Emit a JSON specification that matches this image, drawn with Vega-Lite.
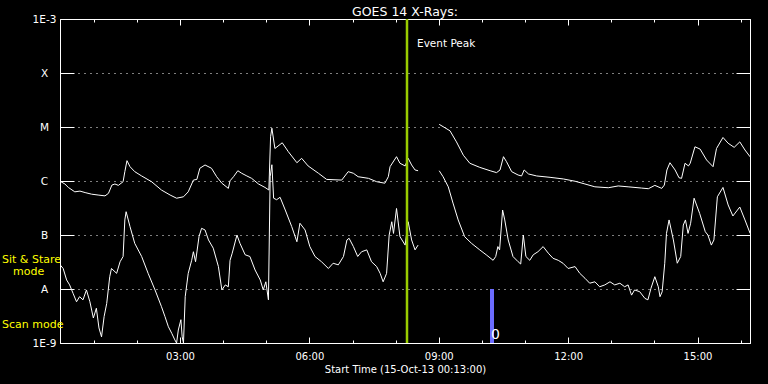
{
  "$schema": "https://vega.github.io/schema/vega-lite/v6.json",
  "width": 690,
  "height": 324,
  "autosize": {"type": "none"},
  "padding": {"left": 60, "top": 19, "right": 18, "bottom": 41},
  "background": "black",
  "config": {
    "view": {"stroke": "white", "strokeWidth": 1},
    "font": "DejaVu Sans",
    "axis": {
      "domainColor": "white", "tickColor": "white", "labelColor": "white", "titleColor": "white",
      "labelFont": "DejaVu Sans", "titleFont": "DejaVu Sans", "labelFontSize": 10, "titleFontSize": 10,
      "titleFontWeight": "normal", "grid": false, "domainWidth": 1, "tickWidth": 1
    }
  },
  "title": {"text": "GOES 14 X-Rays:", "color": "white", "font": "DejaVu Sans", "fontSize": 12.5, "fontWeight": "normal", "anchor": "middle", "frame": "group", "baseline": "alphabetic", "offset": 4, "dy": 18},
  "datasets": {
    "goes": [
      {"channel": "long", "seg": 1, "hour": 0.22, "flux": 9.9e-7},
      {"channel": "long", "seg": 1, "hour": 0.33, "flux": 8.8e-7},
      {"channel": "long", "seg": 1, "hour": 0.41, "flux": 7.6e-7},
      {"channel": "long", "seg": 1, "hour": 0.56, "flux": 6.3e-7},
      {"channel": "long", "seg": 1, "hour": 0.68, "flux": 6.5e-7},
      {"channel": "long", "seg": 1, "hour": 0.80, "flux": 6.1e-7},
      {"channel": "long", "seg": 1, "hour": 0.95, "flux": 5.7e-7},
      {"channel": "long", "seg": 1, "hour": 1.10, "flux": 5.5e-7},
      {"channel": "long", "seg": 1, "hour": 1.26, "flux": 5.3e-7},
      {"channel": "long", "seg": 1, "hour": 1.34, "flux": 5.9e-7},
      {"channel": "long", "seg": 1, "hour": 1.42, "flux": 8.4e-7},
      {"channel": "long", "seg": 1, "hour": 1.49, "flux": 8.8e-7},
      {"channel": "long", "seg": 1, "hour": 1.57, "flux": 8.3e-7},
      {"channel": "long", "seg": 1, "hour": 1.68, "flux": 9.7e-7},
      {"channel": "long", "seg": 1, "hour": 1.72, "flux": 1.49e-6},
      {"channel": "long", "seg": 1, "hour": 1.77, "flux": 2.38e-6},
      {"channel": "long", "seg": 1, "hour": 1.84, "flux": 1.84e-6},
      {"channel": "long", "seg": 1, "hour": 1.95, "flux": 1.49e-6},
      {"channel": "long", "seg": 1, "hour": 2.11, "flux": 1.24e-6},
      {"channel": "long", "seg": 1, "hour": 2.34, "flux": 9.7e-7},
      {"channel": "long", "seg": 1, "hour": 2.57, "flux": 6.8e-7},
      {"channel": "long", "seg": 1, "hour": 2.77, "flux": 5.5e-7},
      {"channel": "long", "seg": 1, "hour": 2.92, "flux": 4.8e-7},
      {"channel": "long", "seg": 1, "hour": 3.08, "flux": 5.1e-7},
      {"channel": "long", "seg": 1, "hour": 3.19, "flux": 6.3e-7},
      {"channel": "long", "seg": 1, "hour": 3.31, "flux": 1.04e-6},
      {"channel": "long", "seg": 1, "hour": 3.39, "flux": 1.07e-6},
      {"channel": "long", "seg": 1, "hour": 3.46, "flux": 1.72e-6},
      {"channel": "long", "seg": 1, "hour": 3.58, "flux": 1.98e-6},
      {"channel": "long", "seg": 1, "hour": 3.73, "flux": 1.72e-6},
      {"channel": "long", "seg": 1, "hour": 3.85, "flux": 1.2e-6},
      {"channel": "long", "seg": 1, "hour": 3.97, "flux": 9.1e-7},
      {"channel": "long", "seg": 1, "hour": 4.12, "flux": 7.3e-7},
      {"channel": "long", "seg": 1, "hour": 4.16, "flux": 1.01e-6},
      {"channel": "long", "seg": 1, "hour": 4.24, "flux": 1.2e-6},
      {"channel": "long", "seg": 1, "hour": 4.34, "flux": 1.55e-6},
      {"channel": "long", "seg": 1, "hour": 4.43, "flux": 1.39e-6},
      {"channel": "long", "seg": 1, "hour": 4.55, "flux": 1.24e-6},
      {"channel": "long", "seg": 1, "hour": 4.66, "flux": 1.12e-6},
      {"channel": "long", "seg": 1, "hour": 4.82, "flux": 8.8e-7},
      {"channel": "long", "seg": 1, "hour": 4.97, "flux": 7.6e-7},
      {"channel": "long", "seg": 1, "hour": 5.06, "flux": 6.8e-7},
      {"channel": "long", "seg": 1, "hour": 5.10, "flux": 6.6e-6},
      {"channel": "long", "seg": 1, "hour": 5.13, "flux": 9.5e-6},
      {"channel": "long", "seg": 1, "hour": 5.20, "flux": 4.0e-6},
      {"channel": "long", "seg": 1, "hour": 5.37, "flux": 5.1e-6},
      {"channel": "long", "seg": 1, "hour": 5.51, "flux": 3.5e-6},
      {"channel": "long", "seg": 1, "hour": 5.71, "flux": 2.18e-6},
      {"channel": "long", "seg": 1, "hour": 5.82, "flux": 2.63e-6},
      {"channel": "long", "seg": 1, "hour": 5.97, "flux": 1.9e-6},
      {"channel": "long", "seg": 1, "hour": 6.21, "flux": 1.39e-6},
      {"channel": "long", "seg": 1, "hour": 6.40, "flux": 1.07e-6},
      {"channel": "long", "seg": 1, "hour": 6.75, "flux": 1.04e-6},
      {"channel": "long", "seg": 1, "hour": 6.90, "flux": 1.49e-6},
      {"channel": "long", "seg": 1, "hour": 7.02, "flux": 1.39e-6},
      {"channel": "long", "seg": 1, "hour": 7.13, "flux": 1.2e-6},
      {"channel": "long", "seg": 1, "hour": 7.37, "flux": 1.12e-6},
      {"channel": "long", "seg": 1, "hour": 7.56, "flux": 9.7e-7},
      {"channel": "long", "seg": 1, "hour": 7.75, "flux": 9.1e-7},
      {"channel": "long", "seg": 1, "hour": 7.83, "flux": 1.2e-6},
      {"channel": "long", "seg": 1, "hour": 7.87, "flux": 1.84e-6},
      {"channel": "long", "seg": 1, "hour": 8.02, "flux": 2.82e-6},
      {"channel": "long", "seg": 1, "hour": 8.10, "flux": 2.13e-6},
      {"channel": "long", "seg": 1, "hour": 8.22, "flux": 1.9e-6},
      {"channel": "long", "seg": 1, "hour": 8.29, "flux": 2.63e-6},
      {"channel": "long", "seg": 1, "hour": 8.37, "flux": 1.98e-6},
      {"channel": "long", "seg": 1, "hour": 8.45, "flux": 1.6e-6},
      {"channel": "long", "seg": 1, "hour": 8.52, "flux": 1.55e-6},
      {"channel": "long", "seg": 2, "hour": 9.01, "flux": 1.12e-5},
      {"channel": "long", "seg": 2, "hour": 9.26, "flux": 8.5e-6},
      {"channel": "long", "seg": 2, "hour": 9.41, "flux": 5.3e-6},
      {"channel": "long", "seg": 2, "hour": 9.57, "flux": 3.0e-6},
      {"channel": "long", "seg": 2, "hour": 9.72, "flux": 2.13e-6},
      {"channel": "long", "seg": 2, "hour": 9.95, "flux": 1.79e-6},
      {"channel": "long", "seg": 2, "hour": 10.19, "flux": 1.55e-6},
      {"channel": "long", "seg": 2, "hour": 10.34, "flux": 1.43e-6},
      {"channel": "long", "seg": 2, "hour": 10.42, "flux": 1.6e-6},
      {"channel": "long", "seg": 2, "hour": 10.50, "flux": 2.82e-6},
      {"channel": "long", "seg": 2, "hour": 10.57, "flux": 2.28e-6},
      {"channel": "long", "seg": 2, "hour": 10.69, "flux": 1.49e-6},
      {"channel": "long", "seg": 2, "hour": 10.84, "flux": 1.29e-6},
      {"channel": "long", "seg": 2, "hour": 10.92, "flux": 1.24e-6},
      {"channel": "long", "seg": 2, "hour": 10.98, "flux": 1.6e-6},
      {"channel": "long", "seg": 2, "hour": 11.08, "flux": 1.35e-6},
      {"channel": "long", "seg": 2, "hour": 11.27, "flux": 1.24e-6},
      {"channel": "long", "seg": 2, "hour": 11.58, "flux": 1.17e-6},
      {"channel": "long", "seg": 2, "hour": 11.89, "flux": 1.09e-6},
      {"channel": "long", "seg": 2, "hour": 12.16, "flux": 9.9e-7},
      {"channel": "long", "seg": 2, "hour": 12.39, "flux": 8.8e-7},
      {"channel": "long", "seg": 2, "hour": 12.62, "flux": 7.8e-7},
      {"channel": "long", "seg": 2, "hour": 12.93, "flux": 7.5e-7},
      {"channel": "long", "seg": 2, "hour": 13.16, "flux": 8.1e-7},
      {"channel": "long", "seg": 2, "hour": 13.39, "flux": 7.8e-7},
      {"channel": "long", "seg": 2, "hour": 13.70, "flux": 7.4e-7},
      {"channel": "long", "seg": 2, "hour": 13.86, "flux": 7.2e-7},
      {"channel": "long", "seg": 2, "hour": 14.01, "flux": 8.3e-7},
      {"channel": "long", "seg": 2, "hour": 14.17, "flux": 7.3e-7},
      {"channel": "long", "seg": 2, "hour": 14.23, "flux": 8.4e-7},
      {"channel": "long", "seg": 2, "hour": 14.29, "flux": 1.6e-6},
      {"channel": "long", "seg": 2, "hour": 14.36, "flux": 2.18e-6},
      {"channel": "long", "seg": 2, "hour": 14.48, "flux": 1.6e-6},
      {"channel": "long", "seg": 2, "hour": 14.57, "flux": 1.15e-6},
      {"channel": "long", "seg": 2, "hour": 14.63, "flux": 1.12e-6},
      {"channel": "long", "seg": 2, "hour": 14.71, "flux": 2.13e-6},
      {"channel": "long", "seg": 2, "hour": 14.79, "flux": 1.9e-6},
      {"channel": "long", "seg": 2, "hour": 14.83, "flux": 2.13e-6},
      {"channel": "long", "seg": 2, "hour": 14.94, "flux": 4.3e-6},
      {"channel": "long", "seg": 2, "hour": 15.06, "flux": 3.9e-6},
      {"channel": "long", "seg": 2, "hour": 15.21, "flux": 2.45e-6},
      {"channel": "long", "seg": 2, "hour": 15.36, "flux": 1.84e-6},
      {"channel": "long", "seg": 2, "hour": 15.44, "flux": 4.0e-6},
      {"channel": "long", "seg": 2, "hour": 15.59, "flux": 6.4e-6},
      {"channel": "long", "seg": 2, "hour": 15.71, "flux": 5.0e-6},
      {"channel": "long", "seg": 2, "hour": 15.85, "flux": 4.2e-6},
      {"channel": "long", "seg": 2, "hour": 15.98, "flux": 5.3e-6},
      {"channel": "long", "seg": 2, "hour": 16.10, "flux": 3.75e-6},
      {"channel": "long", "seg": 2, "hour": 16.22, "flux": 2.8e-6},
      {"channel": "short", "seg": 1, "hour": 0.22, "flux": 2.8e-8},
      {"channel": "short", "seg": 1, "hour": 0.29, "flux": 2.4e-8},
      {"channel": "short", "seg": 1, "hour": 0.37, "flux": 1.47e-8},
      {"channel": "short", "seg": 1, "hour": 0.44, "flux": 1.19e-8},
      {"channel": "short", "seg": 1, "hour": 0.52, "flux": 8.3e-9},
      {"channel": "short", "seg": 1, "hour": 0.60, "flux": 5.8e-9},
      {"channel": "short", "seg": 1, "hour": 0.67, "flux": 7.2e-9},
      {"channel": "short", "seg": 1, "hour": 0.75, "flux": 6.3e-9},
      {"channel": "short", "seg": 1, "hour": 0.83, "flux": 9.6e-9},
      {"channel": "short", "seg": 1, "hour": 0.91, "flux": 5.8e-9},
      {"channel": "short", "seg": 1, "hour": 0.99, "flux": 2.9e-9},
      {"channel": "short", "seg": 1, "hour": 1.06, "flux": 4.4e-9},
      {"channel": "short", "seg": 1, "hour": 1.12, "flux": 1.9e-9},
      {"channel": "short", "seg": 1, "hour": 1.18, "flux": 1.3e-9},
      {"channel": "short", "seg": 1, "hour": 1.24, "flux": 3.1e-9},
      {"channel": "short", "seg": 1, "hour": 1.30, "flux": 5.4e-9},
      {"channel": "short", "seg": 1, "hour": 1.37, "flux": 1.69e-8},
      {"channel": "short", "seg": 1, "hour": 1.41, "flux": 2.4e-8},
      {"channel": "short", "seg": 1, "hour": 1.53, "flux": 1.95e-8},
      {"channel": "short", "seg": 1, "hour": 1.61, "flux": 3.2e-8},
      {"channel": "short", "seg": 1, "hour": 1.68, "flux": 4.0e-8},
      {"channel": "short", "seg": 1, "hour": 1.72, "flux": 1.9e-7},
      {"channel": "short", "seg": 1, "hour": 1.75, "flux": 2.7e-7},
      {"channel": "short", "seg": 1, "hour": 1.84, "flux": 1.43e-7},
      {"channel": "short", "seg": 1, "hour": 1.95, "flux": 7.0e-8},
      {"channel": "short", "seg": 1, "hour": 2.11, "flux": 4.0e-8},
      {"channel": "short", "seg": 1, "hour": 2.26, "flux": 1.95e-8},
      {"channel": "short", "seg": 1, "hour": 2.42, "flux": 9.6e-9},
      {"channel": "short", "seg": 1, "hour": 2.57, "flux": 4.7e-9},
      {"channel": "short", "seg": 1, "hour": 2.65, "flux": 3.1e-9},
      {"channel": "short", "seg": 1, "hour": 2.73, "flux": 2.0e-9},
      {"channel": "short", "seg": 1, "hour": 2.81, "flux": 1.5e-9},
      {"channel": "short", "seg": 1, "hour": 2.88, "flux": 1.14e-9},
      {"channel": "short", "seg": 1, "hour": 2.92, "flux": 1.0e-9},
      {"channel": "short", "seg": 1, "hour": 2.96, "flux": 1.74e-9},
      {"channel": "short", "seg": 1, "hour": 3.02, "flux": 2.7e-9},
      {"channel": "short", "seg": 1, "hour": 3.05, "flux": 1.3e-9},
      {"channel": "short", "seg": 1, "hour": 3.08, "flux": 1.0e-9},
      {"channel": "short", "seg": 1, "hour": 3.12, "flux": 7.2e-9},
      {"channel": "short", "seg": 1, "hour": 3.19, "flux": 1.95e-8},
      {"channel": "short", "seg": 1, "hour": 3.27, "flux": 3.4e-8},
      {"channel": "short", "seg": 1, "hour": 3.31, "flux": 4.9e-8},
      {"channel": "short", "seg": 1, "hour": 3.36, "flux": 3.2e-8},
      {"channel": "short", "seg": 1, "hour": 3.44, "flux": 9.3e-8},
      {"channel": "short", "seg": 1, "hour": 3.50, "flux": 1.33e-7},
      {"channel": "short", "seg": 1, "hour": 3.58, "flux": 1.24e-7},
      {"channel": "short", "seg": 1, "hour": 3.66, "flux": 8.1e-8},
      {"channel": "short", "seg": 1, "hour": 3.77, "flux": 5.7e-8},
      {"channel": "short", "seg": 1, "hour": 3.89, "flux": 2.6e-8},
      {"channel": "short", "seg": 1, "hour": 3.97, "flux": 9.6e-9},
      {"channel": "short", "seg": 1, "hour": 4.05, "flux": 1.19e-8},
      {"channel": "short", "seg": 1, "hour": 4.12, "flux": 1.1e-8},
      {"channel": "short", "seg": 1, "hour": 4.16, "flux": 3.4e-8},
      {"channel": "short", "seg": 1, "hour": 4.21, "flux": 4.6e-8},
      {"channel": "short", "seg": 1, "hour": 4.32, "flux": 1.0e-7},
      {"channel": "short", "seg": 1, "hour": 4.39, "flux": 7.0e-8},
      {"channel": "short", "seg": 1, "hour": 4.51, "flux": 4.3e-8},
      {"channel": "short", "seg": 1, "hour": 4.62, "flux": 4.0e-8},
      {"channel": "short", "seg": 1, "hour": 4.74, "flux": 2.25e-8},
      {"channel": "short", "seg": 1, "hour": 4.86, "flux": 1.47e-8},
      {"channel": "short", "seg": 1, "hour": 4.93, "flux": 9.6e-9},
      {"channel": "short", "seg": 1, "hour": 4.99, "flux": 1.36e-8},
      {"channel": "short", "seg": 1, "hour": 5.05, "flux": 6.3e-9},
      {"channel": "short", "seg": 1, "hour": 5.09, "flux": 1.2e-6},
      {"channel": "short", "seg": 1, "hour": 5.13, "flux": 2.0e-6},
      {"channel": "short", "seg": 1, "hour": 5.17, "flux": 4.8e-7},
      {"channel": "short", "seg": 1, "hour": 5.24, "flux": 4.5e-7},
      {"channel": "short", "seg": 1, "hour": 5.32, "flux": 5.0e-7},
      {"channel": "short", "seg": 1, "hour": 5.44, "flux": 2.9e-7},
      {"channel": "short", "seg": 1, "hour": 5.59, "flux": 1.43e-7},
      {"channel": "short", "seg": 1, "hour": 5.71, "flux": 7.5e-8},
      {"channel": "short", "seg": 1, "hour": 5.78, "flux": 1.65e-7},
      {"channel": "short", "seg": 1, "hour": 5.90, "flux": 1.24e-7},
      {"channel": "short", "seg": 1, "hour": 6.01, "flux": 6.1e-8},
      {"channel": "short", "seg": 1, "hour": 6.13, "flux": 4.0e-8},
      {"channel": "short", "seg": 1, "hour": 6.28, "flux": 3.2e-8},
      {"channel": "short", "seg": 1, "hour": 6.44, "flux": 2.4e-8},
      {"channel": "short", "seg": 1, "hour": 6.55, "flux": 3.0e-8},
      {"channel": "short", "seg": 1, "hour": 6.67, "flux": 2.8e-8},
      {"channel": "short", "seg": 1, "hour": 6.79, "flux": 4.0e-8},
      {"channel": "short", "seg": 1, "hour": 6.87, "flux": 8.1e-8},
      {"channel": "short", "seg": 1, "hour": 6.92, "flux": 8.7e-8},
      {"channel": "short", "seg": 1, "hour": 7.02, "flux": 6.1e-8},
      {"channel": "short", "seg": 1, "hour": 7.12, "flux": 4.0e-8},
      {"channel": "short", "seg": 1, "hour": 7.21, "flux": 4.9e-8},
      {"channel": "short", "seg": 1, "hour": 7.33, "flux": 5.3e-8},
      {"channel": "short", "seg": 1, "hour": 7.44, "flux": 3.2e-8},
      {"channel": "short", "seg": 1, "hour": 7.56, "flux": 2.6e-8},
      {"channel": "short", "seg": 1, "hour": 7.64, "flux": 1.95e-8},
      {"channel": "short", "seg": 1, "hour": 7.71, "flux": 1.36e-8},
      {"channel": "short", "seg": 1, "hour": 7.79, "flux": 1.95e-8},
      {"channel": "short", "seg": 1, "hour": 7.85, "flux": 1.0e-7},
      {"channel": "short", "seg": 1, "hour": 7.91, "flux": 1.76e-7},
      {"channel": "short", "seg": 1, "hour": 7.95, "flux": 1.07e-7},
      {"channel": "short", "seg": 1, "hour": 8.02, "flux": 3.1e-7},
      {"channel": "short", "seg": 1, "hour": 8.10, "flux": 9.3e-8},
      {"channel": "short", "seg": 1, "hour": 8.22, "flux": 6.5e-8},
      {"channel": "short", "seg": 1, "hour": 8.29, "flux": 1.76e-7},
      {"channel": "short", "seg": 1, "hour": 8.37, "flux": 8.1e-8},
      {"channel": "short", "seg": 1, "hour": 8.45, "flux": 5.3e-8},
      {"channel": "short", "seg": 1, "hour": 8.52, "flux": 6.5e-8},
      {"channel": "short", "seg": 2, "hour": 9.01, "flux": 1.55e-6},
      {"channel": "short", "seg": 2, "hour": 9.10, "flux": 1.2e-6},
      {"channel": "short", "seg": 2, "hour": 9.22, "flux": 7.8e-7},
      {"channel": "short", "seg": 2, "hour": 9.33, "flux": 3.9e-7},
      {"channel": "short", "seg": 2, "hour": 9.45, "flux": 1.9e-7},
      {"channel": "short", "seg": 2, "hour": 9.60, "flux": 9.3e-8},
      {"channel": "short", "seg": 2, "hour": 9.76, "flux": 7.0e-8},
      {"channel": "short", "seg": 2, "hour": 9.95, "flux": 5.3e-8},
      {"channel": "short", "seg": 2, "hour": 10.10, "flux": 4.3e-8},
      {"channel": "short", "seg": 2, "hour": 10.26, "flux": 3.4e-8},
      {"channel": "short", "seg": 2, "hour": 10.32, "flux": 4.0e-8},
      {"channel": "short", "seg": 2, "hour": 10.37, "flux": 6.1e-8},
      {"channel": "short", "seg": 2, "hour": 10.41, "flux": 5.3e-8},
      {"channel": "short", "seg": 2, "hour": 10.48, "flux": 2.9e-7},
      {"channel": "short", "seg": 2, "hour": 10.53, "flux": 1.9e-7},
      {"channel": "short", "seg": 2, "hour": 10.61, "flux": 8.1e-8},
      {"channel": "short", "seg": 2, "hour": 10.72, "flux": 4.0e-8},
      {"channel": "short", "seg": 2, "hour": 10.84, "flux": 3.2e-8},
      {"channel": "short", "seg": 2, "hour": 10.90, "flux": 2.9e-8},
      {"channel": "short", "seg": 2, "hour": 10.96, "flux": 1.0e-7},
      {"channel": "short", "seg": 2, "hour": 11.02, "flux": 4.0e-8},
      {"channel": "short", "seg": 2, "hour": 11.11, "flux": 3.4e-8},
      {"channel": "short", "seg": 2, "hour": 11.19, "flux": 4.3e-8},
      {"channel": "short", "seg": 2, "hour": 11.30, "flux": 4.9e-8},
      {"channel": "short", "seg": 2, "hour": 11.42, "flux": 6.1e-8},
      {"channel": "short", "seg": 2, "hour": 11.54, "flux": 4.6e-8},
      {"channel": "short", "seg": 2, "hour": 11.65, "flux": 3.7e-8},
      {"channel": "short", "seg": 2, "hour": 11.77, "flux": 3.4e-8},
      {"channel": "short", "seg": 2, "hour": 11.88, "flux": 3.0e-8},
      {"channel": "short", "seg": 2, "hour": 12.00, "flux": 2.4e-8},
      {"channel": "short", "seg": 2, "hour": 12.16, "flux": 2.6e-8},
      {"channel": "short", "seg": 2, "hour": 12.27, "flux": 1.95e-8},
      {"channel": "short", "seg": 2, "hour": 12.39, "flux": 1.58e-8},
      {"channel": "short", "seg": 2, "hour": 12.50, "flux": 1.28e-8},
      {"channel": "short", "seg": 2, "hour": 12.62, "flux": 1.36e-8},
      {"channel": "short", "seg": 2, "hour": 12.73, "flux": 1.1e-8},
      {"channel": "short", "seg": 2, "hour": 12.85, "flux": 1.19e-8},
      {"channel": "short", "seg": 2, "hour": 12.97, "flux": 1.36e-8},
      {"channel": "short", "seg": 2, "hour": 13.08, "flux": 1.19e-8},
      {"channel": "short", "seg": 2, "hour": 13.20, "flux": 1.28e-8},
      {"channel": "short", "seg": 2, "hour": 13.31, "flux": 1.1e-8},
      {"channel": "short", "seg": 2, "hour": 13.39, "flux": 1.19e-8},
      {"channel": "short", "seg": 2, "hour": 13.47, "flux": 7.7e-9},
      {"channel": "short", "seg": 2, "hour": 13.54, "flux": 9.6e-9},
      {"channel": "short", "seg": 2, "hour": 13.66, "flux": 8.9e-9},
      {"channel": "short", "seg": 2, "hour": 13.78, "flux": 6.7e-9},
      {"channel": "short", "seg": 2, "hour": 13.85, "flux": 6.3e-9},
      {"channel": "short", "seg": 2, "hour": 13.92, "flux": 1.03e-8},
      {"channel": "short", "seg": 2, "hour": 14.01, "flux": 1.69e-8},
      {"channel": "short", "seg": 2, "hour": 14.09, "flux": 1.1e-8},
      {"channel": "short", "seg": 2, "hour": 14.13, "flux": 7.2e-9},
      {"channel": "short", "seg": 2, "hour": 14.18, "flux": 8.9e-9},
      {"channel": "short", "seg": 2, "hour": 14.24, "flux": 3.0e-8},
      {"channel": "short", "seg": 2, "hour": 14.28, "flux": 1.07e-7},
      {"channel": "short", "seg": 2, "hour": 14.34, "flux": 1.9e-7},
      {"channel": "short", "seg": 2, "hour": 14.44, "flux": 8.1e-8},
      {"channel": "short", "seg": 2, "hour": 14.53, "flux": 3.0e-8},
      {"channel": "short", "seg": 2, "hour": 14.61, "flux": 4.0e-8},
      {"channel": "short", "seg": 2, "hour": 14.67, "flux": 1.53e-7},
      {"channel": "short", "seg": 2, "hour": 14.72, "flux": 1.9e-7},
      {"channel": "short", "seg": 2, "hour": 14.78, "flux": 1.07e-7},
      {"channel": "short", "seg": 2, "hour": 14.84, "flux": 1.65e-7},
      {"channel": "short", "seg": 2, "hour": 14.92, "flux": 4.8e-7},
      {"channel": "short", "seg": 2, "hour": 15.05, "flux": 2.5e-7},
      {"channel": "short", "seg": 2, "hour": 15.18, "flux": 1.15e-7},
      {"channel": "short", "seg": 2, "hour": 15.24, "flux": 1.0e-7},
      {"channel": "short", "seg": 2, "hour": 15.32, "flux": 6.5e-8},
      {"channel": "short", "seg": 2, "hour": 15.38, "flux": 8.1e-8},
      {"channel": "short", "seg": 2, "hour": 15.46, "flux": 5.1e-7},
      {"channel": "short", "seg": 2, "hour": 15.59, "flux": 7.6e-7},
      {"channel": "short", "seg": 2, "hour": 15.71, "flux": 3.6e-7},
      {"channel": "short", "seg": 2, "hour": 15.82, "flux": 2.25e-7},
      {"channel": "short", "seg": 2, "hour": 15.98, "flux": 3.3e-7},
      {"channel": "short", "seg": 2, "hour": 16.10, "flux": 1.9e-7},
      {"channel": "short", "seg": 2, "hour": 16.22, "flux": 1.07e-7}
    ]
  },
  "layer": [
    {
      "data": {"name": "goes"},
      "mark": {"type": "line", "color": "white", "strokeWidth": 1, "clip": true},
      "encoding": {
        "x": {
          "field": "hour", "type": "quantitative",
          "scale": {"domain": [0.2167, 16.2167], "nice": false, "zero": false},
          "axis": {
            "orient": "bottom",
            "values": [1, 2, 3, 4, 5, 6, 7, 8, 9, 10, 11, 12, 13, 14, 15, 16],
            "labelExpr": "datum.value % 3 == 0 ? (datum.value < 10 ? '0' : '') + datum.value + ':00' : ''",
            "tickSize": {"condition": {"test": "datum.value % 3 == 0", "value": -6}, "value": -3},
            "labelPadding": 14,
            "labelBaseline": "top",
            "labelFlush": false,
            "title": "Start Time (15-Oct-13 00:13:00)",
            "titlePadding": 3
          }
        },
        "y": {
          "field": "flux", "type": "quantitative",
          "scale": {"type": "log", "domain": [1e-9, 1e-3], "nice": false},
          "axis": {
            "orient": "left",
            "values": [1e-9, 1e-8, 1e-7, 1e-6, 1e-5, 1e-4, 1e-3],
            "labelExpr": "datum.value > 5e-4 ? '1E-3' : datum.value > 5e-5 ? 'X' : datum.value > 5e-6 ? 'M' : datum.value > 5e-7 ? 'C' : datum.value > 5e-8 ? 'B' : datum.value > 5e-9 ? 'A' : '1E-9'",
            "tickSize": -14,
            "labelPadding": 30,
            "labelAlign": "center",
            "labelBaseline": "middle",
            "labelFontSize": 10.5,
            "labelFlush": false,
            "grid": true,
            "gridColor": "white",
            "gridDash": [1, 5],
            "gridWidth": 1,
            "gridOpacity": {"condition": {"test": "datum.value < 5e-9 || datum.value > 5e-4", "value": 0}, "value": 1},
            "title": null
          }
        },
        "detail": [{"field": "channel"}, {"field": "seg"}]
      }
    },
    {
      "data": {"values": [{"hour": 10.234, "flux": 1e-8, "fluxLow": 1e-9}]},
      "mark": {"type": "rule", "color": "#6c6cff", "strokeWidth": 4},
      "encoding": {
        "x": {
          "field": "hour", "type": "quantitative",
          "scale": {"domain": [0.2167, 16.2167], "nice": false, "zero": false},
          "axis": {
            "orient": "top",
            "values": [1, 2, 3, 4, 5, 6, 7, 8, 9, 10, 11, 12, 13, 14, 15, 16],
            "tickSize": {"condition": {"test": "datum.value % 3 == 0", "value": -6}, "value": -3},
            "labels": false,
            "title": null
          }
        },
        "y": {
          "field": "flux", "type": "quantitative",
          "scale": {"type": "log", "domain": [1e-9, 1e-3], "nice": false},
          "axis": {
            "orient": "right",
            "values": [1e-9, 1e-8, 1e-7, 1e-6, 1e-5, 1e-4, 1e-3],
            "tickSize": -14,
            "labels": false,
            "grid": false,
            "title": null
          }
        },
        "y2": {"field": "fluxLow"}
      }
    },
    {
      "data": {"values": [{"hour": 8.263}]},
      "mark": {"type": "rule", "color": "#99cc00", "strokeWidth": 2.5},
      "encoding": {
        "x": {"field": "hour", "type": "quantitative", "axis": null}
      }
    },
    {
      "data": {"values": [{"hour": 8.263, "flux": 3.03e-4, "label": "Event Peak"}]},
      "mark": {"type": "text", "color": "white", "fontSize": 10.5, "align": "left", "baseline": "alphabetic", "dx": 10, "font": "DejaVu Sans"},
      "encoding": {
        "x": {"field": "hour", "type": "quantitative", "axis": null},
        "y": {"field": "flux", "type": "quantitative", "axis": null},
        "text": {"field": "label"}
      }
    },
    {
      "data": {"values": [{"hour": 10.234, "flux": 1.19e-9, "label": "0"}]},
      "mark": {"type": "text", "color": "white", "fontSize": 14, "align": "center", "baseline": "alphabetic", "dx": 3.5, "font": "DejaVu Sans"},
      "encoding": {
        "x": {"field": "hour", "type": "quantitative", "axis": null},
        "y": {"field": "flux", "type": "quantitative", "axis": null},
        "text": {"field": "label"}
      }
    },
    {
      "data": {"values": [
        {"hour": -1.128, "flux": 3.03e-8, "label": "Sit & Stare"},
        {"hour": -0.873, "flux": 1.82e-8, "label": "mode"},
        {"hour": -1.128, "flux": 1.9e-9, "label": "Scan mode"}
      ]},
      "mark": {"type": "text", "color": "#ffff00", "fontSize": 11, "align": "left", "baseline": "alphabetic", "font": "DejaVu Sans"},
      "encoding": {
        "x": {"field": "hour", "type": "quantitative", "axis": null},
        "y": {"field": "flux", "type": "quantitative", "axis": null},
        "text": {"field": "label"}
      }
    }
  ],
  "resolve": {"axis": {"x": "independent", "y": "independent"}}
}
